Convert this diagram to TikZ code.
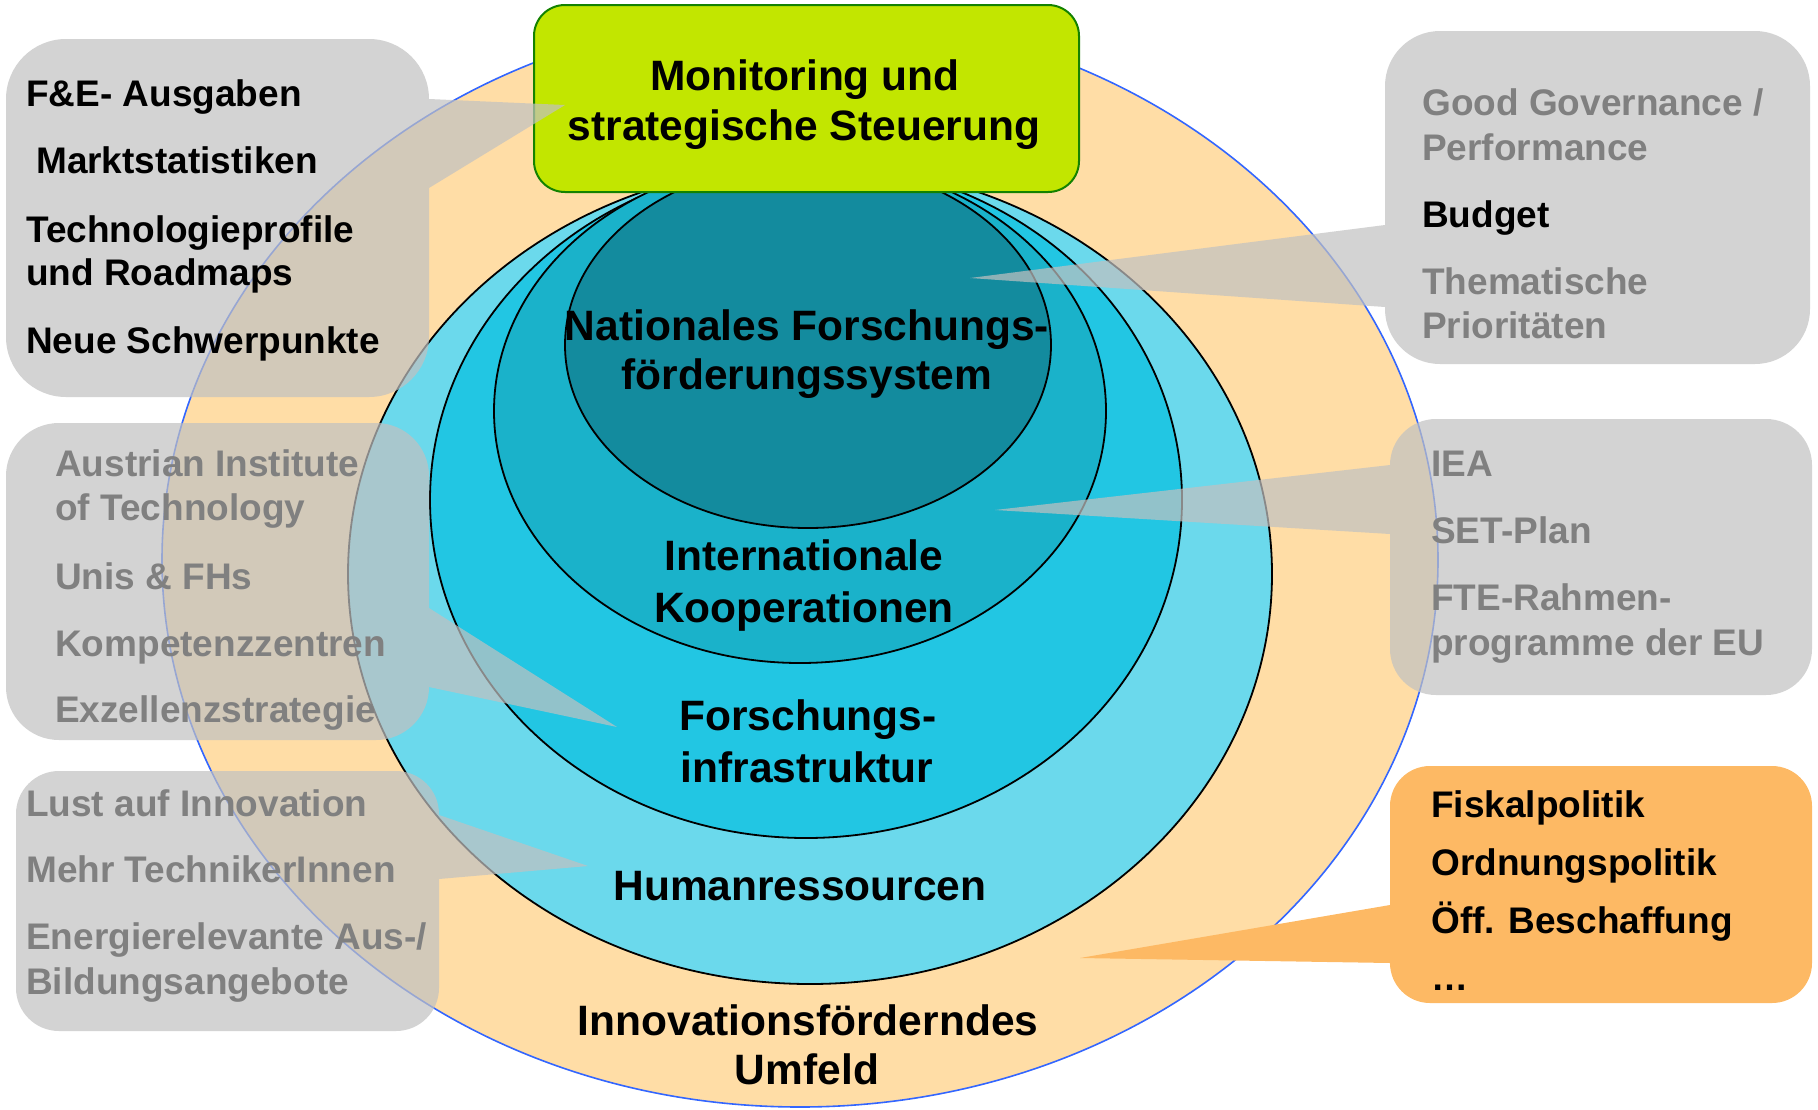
\documentclass[tikz,border=0pt]{standalone}
\usepackage{fontspec}
\setmainfont{Liberation Sans}
\definecolor{peach}{RGB}{255,221,166}
\definecolor{outerblue}{RGB}{51,102,255}
\definecolor{cyanA}{RGB}{107,217,236}
\definecolor{cyanB}{RGB}{34,198,227}
\definecolor{cyanC}{RGB}{26,178,202}
\definecolor{cyanD}{RGB}{19,139,158}
\definecolor{lime}{RGB}{194,230,0}
\definecolor{limeedge}{RGB}{20,130,0}
\definecolor{boxgray}{RGB}{193,193,193}
\definecolor{txtgray}{RGB}{128,128,128}
\definecolor{calloutorange}{RGB}{253,185,100}
% rounded box with pointer on the right edge: L T R B r y1 tx ty y2
\newcommand{\balloonRight}[9]{%
 (#1+#5,#2) -- (#3-#5,#2) .. controls (#3-0.448*#5,#2) and (#3,#2+0.448*#5) .. (#3,#2+#5)
 -- (#3,#6) -- (#7,#8) -- (#3,#9) -- (#3,#4-#5)
 .. controls (#3,#4-0.448*#5) and (#3-0.448*#5,#4) .. (#3-#5,#4)
 -- (#1+#5,#4) .. controls (#1+0.448*#5,#4) and (#1,#4-0.448*#5) .. (#1,#4-#5)
 -- (#1,#2+#5) .. controls (#1,#2+0.448*#5) and (#1+0.448*#5,#2) .. (#1+#5,#2) -- cycle}
% rounded box with pointer on the left edge: L T R B r y1 tx ty y2
\newcommand{\balloonLeft}[9]{%
 (#1+#5,#2) -- (#3-#5,#2) .. controls (#3-0.448*#5,#2) and (#3,#2+0.448*#5) .. (#3,#2+#5)
 -- (#3,#4-#5) .. controls (#3,#4-0.448*#5) and (#3-0.448*#5,#4) .. (#3-#5,#4)
 -- (#1+#5,#4) .. controls (#1+0.448*#5,#4) and (#1,#4-0.448*#5) .. (#1,#4-#5)
 -- (#1,#9) -- (#7,#8) -- (#1,#6)
 -- (#1,#2+#5) .. controls (#1,#2+0.448*#5) and (#1+0.448*#5,#2) .. (#1+#5,#2) -- cycle}
\tikzset{
  ring/.style={draw=black, line width=1.8pt},
  centertext/.style={font=\bfseries\fontsize{42.5}{50}\selectfont, anchor=base, inner sep=0pt},
  calltext/.style={font=\bfseries\fontsize{37}{44}\selectfont, anchor=base west, inner sep=0pt},
  dimtext/.style={calltext, text=txtgray},
  grayballoon/.style={fill=boxgray, fill opacity=0.71},
  orangeballoon/.style={fill=calloutorange},
  greenbox/.style={fill=lime, draw=limeedge, line width=2pt, rounded corners=31pt},
}
\begin{document}
\begin{tikzpicture}[x=1pt,y=-1pt]
\useasboundingbox (0,0) rectangle (1818,1109);
% onion rings
\draw[fill=peach, draw=outerblue, line width=1.6pt] (800,560) ellipse [x radius=638pt, y radius=547pt];
\draw[ring, fill=cyanA] (810,574) ellipse [x radius=462pt, y radius=410pt];
\draw[ring, fill=cyanB] (806,500) ellipse [x radius=376pt, y radius=338pt];
\draw[ring, fill=cyanC] (800,411) ellipse [x radius=306pt, y radius=252pt];
\draw[ring, fill=cyanD] (808,345) ellipse [x radius=243pt, y radius=183pt];
% monitoring box
\draw[greenbox] (534,5) rectangle (1079,192);
% callouts
\path[grayballoon] \balloonRight{6}{39}{429}{397}{60}{99}{565}{105}{188};
\path[grayballoon] \balloonRight{6}{423}{429}{740}{53}{608}{617}{727}{687};
\path[grayballoon] \balloonRight{16}{771}{439}{1031}{43}{815}{588}{866}{879};
\path[grayballoon] \balloonLeft{1385}{31}{1810}{364}{55}{225}{970}{278}{307};
\path[grayballoon] \balloonLeft{1390}{419}{1812}{695}{46}{465}{995}{510}{534};
\path[orangeballoon] \balloonLeft{1390}{766}{1812}{1003}{40}{905}{1080}{958}{963};
% central texts
\node[centertext] (mon1) at (805,90) {Monitoring und};
\node[centertext] (mon2) at (804,140) {strategische Steuerung};
\node[centertext] (nat1) at (807,340) {Nationales Forschungs-};
\node[centertext] (nat2) at (807,389) {förderungssystem};
\node[centertext] (int1) at (804,570) {Internationale};
\node[centertext] (int2) at (804,622) {Kooperationen};
\node[centertext] (inf1) at (808,730) {Forschungs-};
\node[centertext] (inf2) at (807,782) {infrastruktur};
\node[centertext] (hum) at (800,900) {Humanressourcen};
\node[centertext] (umf1) at (808,1035) {Innovationsförderndes};
\node[centertext] (umf2) at (807,1084) {Umfeld};
% left top callout
\node[calltext] (a1) at (26,106) {F\&E- Ausgaben};
\node[calltext] (a2) at (36,173) {Marktstatistiken};
\node[calltext] (a3) at (26,242) {Technologieprofile};
\node[calltext] (a4) at (26,285) {und Roadmaps};
\node[calltext] (a5) at (26,353) {Neue Schwerpunkte};
% left middle callout
\node[dimtext] (b1) at (55,476) {Austrian Institute};
\node[dimtext] (b2) at (55,520) {of Technology};
\node[dimtext] (b3) at (55,589) {Unis \& FHs};
\node[dimtext] (b4) at (55,656) {Kompetenzzentren};
\node[dimtext] (b5) at (55,722) {Exzellenzstrategie};
% left bottom callout
\node[dimtext] (c1) at (26,816) {Lust auf Innovation};
\node[dimtext] (c2) at (26,882) {Mehr TechnikerInnen};
\node[dimtext] (c3) at (26,949) {Energierelevante Aus-/};
\node[dimtext] (c4) at (26,994) {Bildungsangebote};
% right top callout
\node[dimtext] (d1) at (1422,115) {Good Governance /};
\node[dimtext] (d2) at (1422,160) {Performance};
\node[calltext] (d3) at (1422,227) {Budget};
\node[dimtext] (d4) at (1422,294) {Thematische};
\node[dimtext] (d5) at (1422,338) {Prioritäten};
% right middle callout
\node[dimtext] (e1) at (1431,476) {IEA};
\node[dimtext] (e2) at (1431,543) {SET-Plan};
\node[dimtext] (e3) at (1431,610) {FTE-Rahmen-};
\node[dimtext] (e4) at (1431,655) {programme der EU};
% right bottom callout
\node[calltext] (f1) at (1431,817) {Fiskalpolitik};
\node[calltext] (f2) at (1431,875) {Ordnungspolitik};
\node[calltext] (f3) at (1431,933) {Öff. Beschaffung};
\node[calltext] (f4) at (1431,990) {…};
\end{tikzpicture}
\end{document}
